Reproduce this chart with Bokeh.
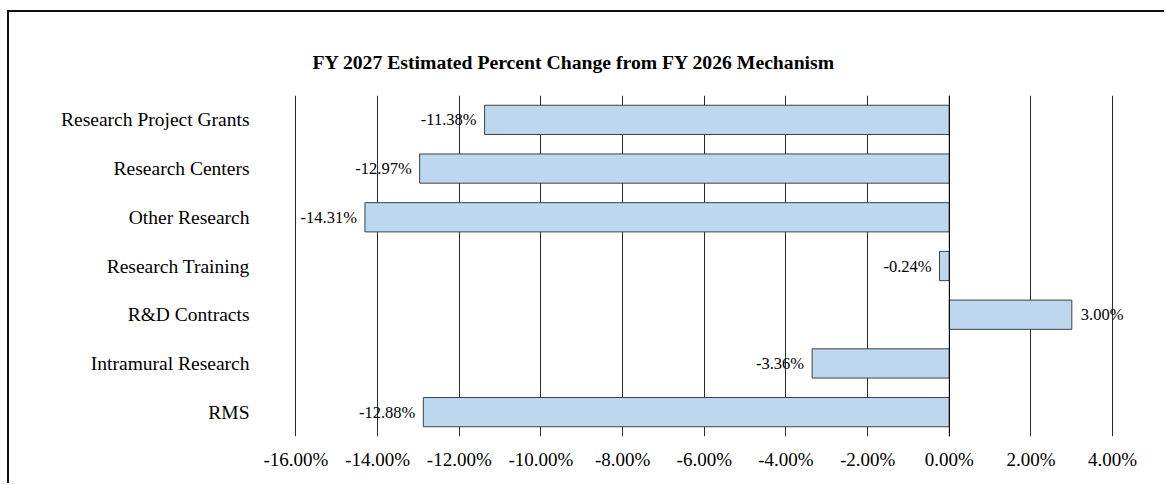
from bokeh.plotting import figure
from bokeh.models import ColumnDataSource, FixedTicker, PrintfTickFormatter, Span, FactorRange, Range1d
from bokeh.core.properties import value
from bokeh.embed import file_html
from bokeh.resources import INLINE

categories = ["Research Project Grants", "Research Centers", "Other Research",
              "Research Training", "R&D Contracts", "Intramural Research", "RMS"]
pct_change = [-11.38, -12.97, -14.31, -0.24, 3.00, -3.36, -12.88]
x_ticks = [-16, -14, -12, -10, -8, -6, -4, -2, 0, 2, 4]
title_text = "FY 2027 Estimated Percent Change from FY 2026 Mechanism"

FONT = "Liberation Serif"

labels = ["%.2f%%" % v for v in pct_change]
aligns = ["right" if v < 0 else "left" for v in pct_change]
offsets = [-8 if v < 0 else 9 for v in pct_change]

src = ColumnDataSource(dict(cat=categories, val=pct_change, lab=labels,
                            align=aligns, off=offsets))

p = figure(width=1157, height=473, output_backend="svg", toolbar_location=None,
           y_range=FactorRange(factors=list(reversed(categories))),
           x_range=Range1d(-16.5, 5.0),
           min_border_left=266, min_border_right=13,
           min_border_top=83, min_border_bottom=49)

# outer frame: only top and left edges visible in the reference
p.margin = (10, 0, 0, 7)
p.styles = {"border-top": "2px solid #111111", "border-left": "2px solid #111111"}

p.title.text = title_text
p.title.text_font = FONT
p.title.text_font_style = "bold"
p.title.text_font_size = "19.7px"
p.title.align = "left"
p.title.offset = 37
p.title.standoff = 45
p.title.text_color = "black"

p.outline_line_color = None
p.background_fill_color = "white"
p.border_fill_color = "white"

p.hbar(y="cat", right="val", left=0, height=0.6, source=src,
       fill_color="#BDD7EE", line_color="#404040", line_width=1)

p.text(x="val", y="cat", text="lab", source=src, text_align="align",
       x_offset="off", text_baseline="middle", text_font=value(FONT),
       text_font_size="16.5px", text_color="black")

p.add_layout(Span(location=0, dimension="height", line_color="black", line_width=1))

# grid
p.ygrid.grid_line_color = None
p.xgrid.ticker = FixedTicker(ticks=x_ticks)
p.xgrid.grid_line_color = "#2a2a2a"
p.xgrid.grid_line_width = 1

# x axis
p.xaxis.ticker = FixedTicker(ticks=x_ticks)
p.xaxis.formatter = PrintfTickFormatter(format="%.2f%%")
p.xaxis.axis_line_color = None
p.xaxis.major_tick_line_color = None
p.xaxis.minor_tick_line_color = None
p.xaxis.major_label_text_font = FONT
p.xaxis.major_label_text_font_size = "19px"
p.xaxis.major_label_text_color = "black"
p.xaxis.major_label_standoff = 6

# y axis
p.yaxis.axis_line_color = None
p.yaxis.major_tick_line_color = None
p.yaxis.minor_tick_line_color = None
p.yaxis.major_tick_out = 0
p.yaxis.major_tick_in = 0
p.yaxis.major_label_text_font = FONT
p.yaxis.major_label_text_font_size = "19.5px"
p.yaxis.major_label_text_color = "black"
p.yaxis.major_label_standoff = 26

open("out.html", "w").write(file_html(p, INLINE))
